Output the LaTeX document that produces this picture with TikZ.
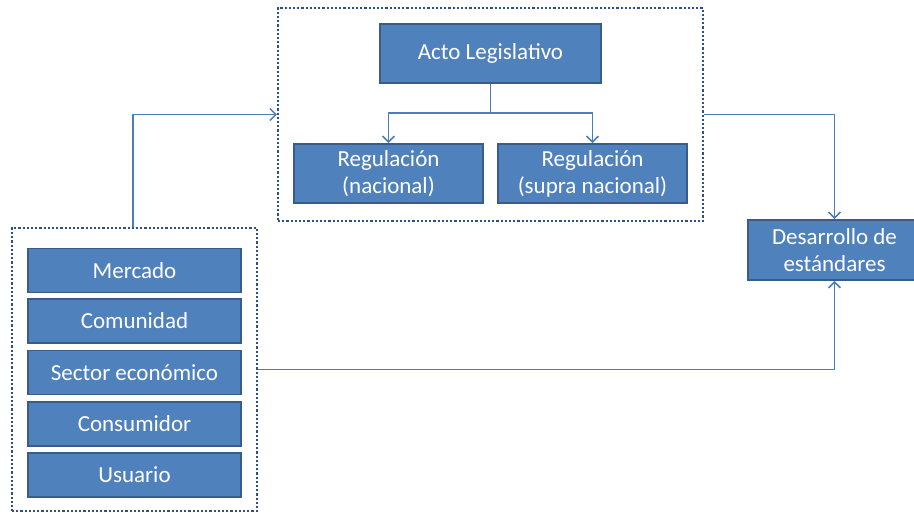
\documentclass[tikz,border=0pt]{standalone}
\usepackage{fontspec}
\setmainfont{Carlito}
\usetikzlibrary{arrows.meta}
\definecolor{boxfill}{HTML}{4F81BD}
\definecolor{boxedge}{HTML}{385D8A}
\definecolor{linkcol}{HTML}{4A7EBB}
\definecolor{dotcol}{HTML}{2C5285}
\begin{document}
\begin{tikzpicture}[x=1pt,y=-1pt,
  bluebox/.style={draw=boxedge, fill=boxfill, line width=1.8pt, text=white,
    inner sep=0pt, align=center, font=\fontsize{23}{27}\selectfont},
  groupbox/.style={draw=dotcol, line width=2.2pt, dash pattern=on 2.2pt off 2pt,
    inner sep=0pt},
  link/.style={draw=linkcol, line width=1.5pt},
  conn/.style={link,
    -{Straight Barb[length=6pt,width=12pt,line width=1.5pt]}}]
\useasboundingbox (0,0) rectangle (914,512);

% dotted grouping frames
\node[groupbox, minimum width=425pt, minimum height=213pt] (grpTop) at (490.5,114.5) {};
\node[groupbox, minimum width=245pt, minimum height=283pt] (grpLeft) at (134.5,369.5) {};

% legislative branch
\node[bluebox, minimum width=221pt, minimum height=59pt] (acto) at (490.5,53.5) {Acto Legislativo};
\node[bluebox, minimum width=189pt, minimum height=59pt] (regN) at (388.5,173.5) {Regulación\\(nacional)};
\node[bluebox, minimum width=189pt, minimum height=59pt] (regS) at (592.5,173.5) {Regulación\\(supra nacional)};

% stakeholders
\node[bluebox, minimum width=213pt, minimum height=44pt] (merc) at (134.5,270.5) {Mercado};
\node[bluebox, minimum width=213pt, minimum height=44pt] (comu) at (134.5,321) {Comunidad};
\node[bluebox, minimum width=213pt, minimum height=44pt] (sect) at (134.5,372.5) {Sector económico};
\node[bluebox, minimum width=213pt, minimum height=44pt] (cons) at (134.5,424) {Consumidor};
\node[bluebox, minimum width=213pt, minimum height=44pt] (usua) at (134.5,475) {Usuario};

% outcome
\node[bluebox, minimum width=173pt, minimum height=60pt] (desa) at (834.5,250) {Desarrollo de\\estándares};

% connectors
\coordinate (split) at (490.5,113);
\draw[link] (acto.south) -- (split);
\draw[conn] (split) -| (regN.north);
\draw[conn] (split) -| (regS.north);
\draw[conn] ([xshift=-1.5pt]grpLeft.north) |- (grpTop.west);
\draw[conn] (grpTop.east) -| (desa.north);
\draw[conn] (grpLeft.east) -| (desa.south);
\end{tikzpicture}
\end{document}
